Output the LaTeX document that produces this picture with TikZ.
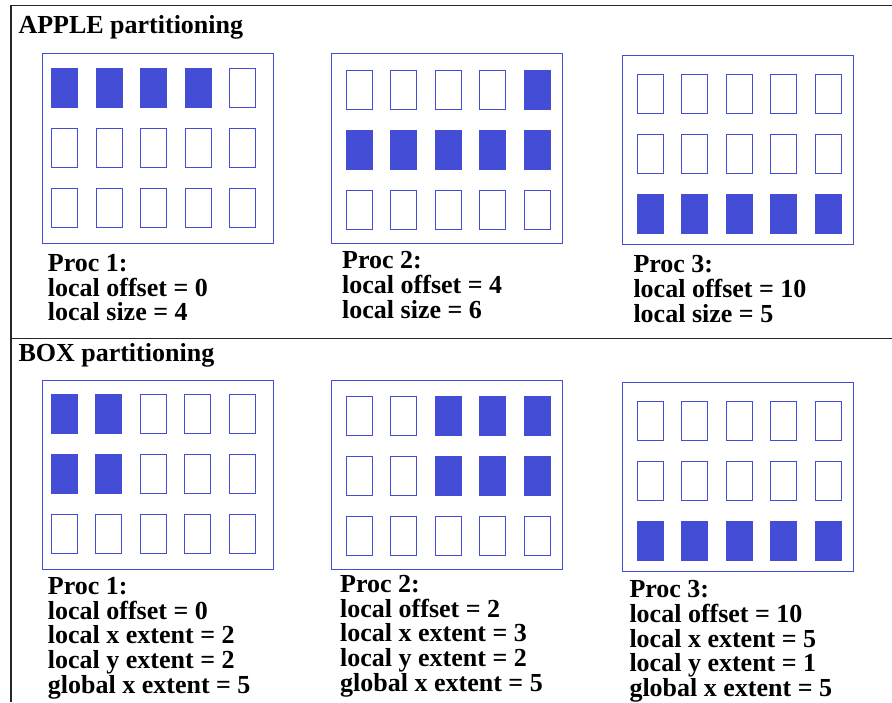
\documentclass[tikz,border=0pt]{standalone}
\usepackage{fontspec}
\setmainfont{Liberation Serif}
\usetikzlibrary{calc}
\definecolor{cellblue}{RGB}{67,77,214}
\tikzset{
 panelbox/.style={draw=cellblue, line width=1pt, minimum width=231pt, minimum height=189.5pt, inner sep=0pt, outer sep=0pt, anchor=north west},
 cellbox/.style={draw=cellblue, line width=1pt, minimum width=26pt, minimum height=39pt, inner sep=0pt, outer sep=0pt, anchor=north west},
 frameline/.style={draw=black!85, line width=1.3pt},
 titletext/.style={font=\bfseries\fontsize{26}{26}\selectfont, anchor=base west, inner sep=0pt},
 infotext/.style={font=\bfseries\fontsize{26}{24.7}\selectfont, anchor=base west, align=left, inner sep=0pt},
}
\newcommand\gridpanel[5]{%
 \node[panelbox] (#1) at (#2,#3) {};
 \foreach \r in {1,2,3}{\foreach \c in {1,...,5}{
   \node[cellbox] (#1-\r-\c) at ($(#1.north west)+({#4+(\c-1)*44.5},{#5+(\r-1)*60})$) {};
 }}}
\newcommand\fillcells[2]{\foreach \rc in {#2}{\fill[cellblue] (#1-\rc.north west) rectangle (#1-\rc.south east);}}
\begin{document}
\begin{tikzpicture}[x=1pt,y=-1pt]
\useasboundingbox (0,0) rectangle (892,702);
% frame
\coordinate (ftl) at (11,5.7);
\coordinate (ftr) at (892,5.7);
\coordinate (fbl) at (11,702);
\coordinate (fml) at (11,338.7);
\coordinate (fmr) at (892,338.7);
\draw[frameline] (ftr) -- (ftl) -- (fbl);
\draw[frameline] (fml) -- (fmr);
% titles
\node[titletext] (tapple) at (18.3,33.3) {APPLE partitioning};
\node[titletext] (tbox) at (18.3,361.7) {BOX partitioning};
% APPLE panels
\gridpanel{aone}{42.3}{53.7}{9.5}{14.3}
\fillcells{aone}{1-1,1-2,1-3,1-4}
\gridpanel{atwo}{331.7}{53.7}{14.6}{16.3}
\fillcells{atwo}{1-5,2-1,2-2,2-3,2-4,2-5}
\gridpanel{athree}{622.3}{55}{15}{19.3}
\fillcells{athree}{3-1,3-2,3-3,3-4,3-5}
% BOX panels
\gridpanel{bone}{42.3}{380.3}{9}{14}
\fillcells{bone}{1-1,1-2,2-1,2-2}
\gridpanel{btwo}{331.3}{380.3}{15}{16.4}
\fillcells{btwo}{1-3,1-4,1-5,2-3,2-4,2-5}
\gridpanel{bthree}{622.3}{382}{15}{19}
\fillcells{bthree}{3-1,3-2,3-3,3-4,3-5}
% labels (anchored at the baseline of the last line)
\node[infotext] (laone) at (47.7,320.7) {Proc 1:\\local offset = 0\\local size = 4};
\node[infotext] (latwo) at (342,318) {Proc 2:\\local offset = 4\\local size = 6};
\node[infotext] (lathree) at (633.3,322.3) {Proc 3:\\local offset = 10\\local size = 5};
\node[infotext] (lbone) at (47.7,693.3) {Proc 1:\\local offset = 0\\local x extent = 2\\local y extent = 2\\global x extent = 5};
\node[infotext] (lbtwo) at (340,691.3) {Proc 2:\\local offset = 2\\local x extent = 3\\local y extent = 2\\global x extent = 5};
\node[infotext] (lbthree) at (629.3,696.5) {Proc 3:\\local offset = 10\\local x extent = 5\\local y extent = 1\\global x extent = 5};
\end{tikzpicture}
\end{document}
